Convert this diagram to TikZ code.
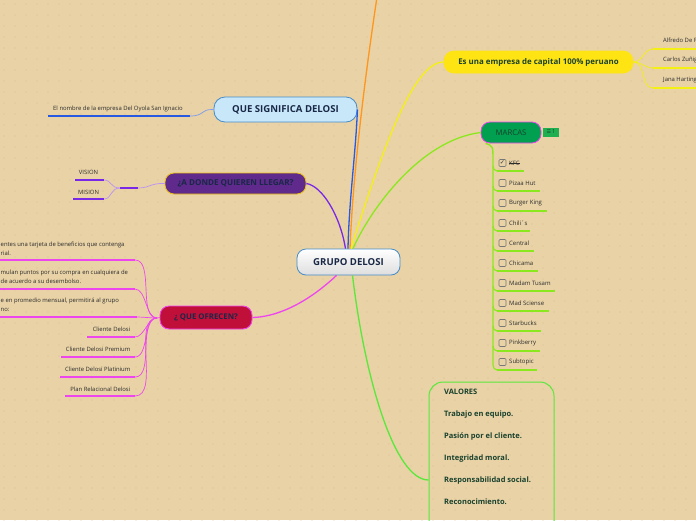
\documentclass[tikz,border=0pt]{standalone}
\usepackage{fontspec}
\setmainfont{Open Sans}
\newfontfamily\djv{DejaVu Sans}
\usetikzlibrary{calc}
\definecolor{bg}{RGB}{232,210,166}
\definecolor{dotc}{RGB}{214,190,146}
\definecolor{orng}{RGB}{255,150,30}
\definecolor{blu}{RGB}{40,90,225}
\definecolor{ylw}{RGB}{245,240,20}
\definecolor{ylwf}{RGB}{255,228,20}
\definecolor{lime}{RGB}{140,232,30}
\definecolor{purp}{RGB}{120,40,230}
\definecolor{purpf}{RGB}{95,42,140}
\definecolor{gold}{RGB}{235,195,20}
\definecolor{mag}{RGB}{238,70,238}
\definecolor{crim}{RGB}{192,16,58}
\definecolor{grn}{RGB}{90,232,60}
\definecolor{mgrn}{RGB}{0,160,80}
\definecolor{tagg}{RGB}{30,176,80}
\definecolor{lblue}{RGB}{200,232,250}
\definecolor{bord}{RGB}{70,140,200}
\definecolor{navy}{RGB}{25,40,70}
\definecolor{dgrn}{RGB}{25,65,45}
\definecolor{txt}{RGB}{45,45,45}
\definecolor{boxg}{RGB}{120,120,120}
\newcommand\myfs[1]{\fontsize{#1}{#1}\selectfont}
\begin{document}
\begin{tikzpicture}[x=1pt,y=-1pt,
  topic/.style={draw, rounded corners=9pt, inner sep=0pt, align=center},
  small/.style={font=\myfs{5.9}, text=txt, inner sep=0pt},
  item/.style={font=\myfs{6}, text=txt, inner sep=0pt},
  conn/.style={line width=1.3pt},
  twig/.style={line width=0.7pt},
  uline/.style={line width=1.6pt},
  chk/.style={draw=boxg, line width=0.6pt, rounded corners=1pt},
]
\useasboundingbox (0,0) rectangle (696,520);
\clip (0,0) rectangle (696,520);
\fill[bg] (0,0) rectangle (696,520);
\foreach \i in {0,...,63}{\foreach \j in {0,...,47}{\fill[dotc] (4+\i*11,4+\j*11) circle (0.7);}}

% ---------- main nodes ----------
\node[topic, top color=white, bottom color=black!13, draw=bord, line width=0.8pt,
      minimum width=103, minimum height=26, font=\bfseries\myfs{9.6}, text=navy] (g) at (348.5,262) {GRUPO DELOSI};
\node[topic, fill=lblue, draw=bord, line width=0.8pt, rounded corners=11pt,
      minimum width=143, minimum height=25, font=\bfseries\myfs{9.6}, text=navy] (q) at (285.5,109.5) {QUE SIGNIFICA DELOSI};
\node[topic, fill=purpf, draw=gold, line width=0.8pt,
      minimum width=141, minimum height=21, font=\bfseries\myfs{8.1}, text=navy] (a) at (235.5,183.5) {¿A DONDE QUIEREN LLEGAR?};
\node[topic, fill=crim, draw=mag, line width=0.9pt,
      minimum width=92, minimum height=23, font=\bfseries\myfs{7.8}, text=navy] (o) at (206,317.5) {¿ QUE OFRECEN?};
\node[topic, fill=ylwf, draw=ylwf, line width=0.8pt, rounded corners=10pt,
      minimum width=189, minimum height=22, font=\bfseries\myfs{7.9}, text=dgrn] (cap) at (538.5,62) {Es una empresa de capital 100\% peruano};
\node[topic, fill=mgrn, draw=mag, line width=0.8pt,
      minimum width=60, minimum height=21, font=\myfs{7.8}, text=dgrn] (m) at (511,132.5) {MARCAS};
\node[fill=tagg, inner sep=0pt, minimum width=16, minimum height=9, font=\myfs{5.5}, text=dgrn] (tag) at (551,132) {{\djv\myfs{5}☰}\,1};
\node[draw=grn, line width=1pt, rounded corners=14pt, minimum width=125, minimum height=196] (v) at (491.5,480) {};
\node[anchor=north west, align=left, inner sep=0pt, text=dgrn, font=\bfseries\fontsize{7.5}{22}\selectfont] (vt) at (444,389)
  {VALORES\\Trabajo en equipo.\\Pasión por el cliente.\\Integridad moral.\\Responsabilidad social.\\Reconocimiento.};

% ---------- main connectors ----------
\coordinate (top) at (377,-3);
\draw[conn,orng] ([xshift=1.5pt]g.north) .. controls (353,170) and (366,70) .. (top);
\draw[conn,blu] (q.east) .. controls (356,150) and (349,200) .. ([xshift=-0.5pt]g.north);
\draw[conn,ylw] ([xshift=2.5pt]g.north) .. controls (385,140) and (415,62) .. (cap.west);
\draw[conn,lime] ([xshift=4.5pt]g.north) .. controls (370,210) and (420,140) .. (m.west);
\draw[conn,purp] ([xshift=-3pt]g.north) .. controls (340,215) and (322,186) .. (a.east);
\draw[conn,mag] ([xshift=-12pt]g.south) .. controls (305,305) and (275,317) .. (o.east);
\draw[conn,grn] ([xshift=4pt]g.south) .. controls (365,380) and (395,480) .. (v.west);

% ---------- QUE SIGNIFICA child ----------
\coordinate (s0) at (48,116); \coordinate (s1) at (190,116);
\draw[uline,blu] (s0) -- (s1);
\draw[twig,blu!60] (s1) .. controls (205,116) and (200,109) .. (q.west);
\node[small, anchor=base west] (st) at (53,110.5) {El nombre de la empresa Del Oyola San Ignacio};

% ---------- A DONDE children ----------
\coordinate (ah) at (138,188); \coordinate (ah2) at (120,188);
\coordinate (vi1) at (75,180); \coordinate (vi2) at (104,180);
\coordinate (mi1) at (73,199); \coordinate (mi2) at (104,199);
\draw[twig,purp!50] (a.west) .. controls (150,183) and (150,188) .. (ah);
\draw[line width=1.6pt,purp] (ah2) -- (ah);
\draw[twig,purp!50] (ah2) .. controls (110,188) and (112,180) .. (vi2);
\draw[twig,purp!50] (ah2) .. controls (110,188) and (112,199) .. (mi2);
\draw[uline,purp] (vi1) -- (vi2);
\draw[uline,purp] (mi1) -- (mi2);
\node[small, anchor=base] (vis) at (88.5,174.5) {VISION};
\node[small, anchor=base] (mis) at (88.5,194.5) {MISION};

% ---------- QUE OFRECEN children ----------
\coordinate (oh) at (157,318);
\draw[twig,mag] (oh) -- (o.west);
\foreach \n/\xs/\xe/\yy in {1/-2/135/260, 2/-2/135/289, 3/-2/137/317, 4/87/135/337, 5/61/135/357, 6/60/135/377, 7/65/135/396}{
  \coordinate (ou\n a) at (\xs,\yy); \coordinate (ou\n b) at (\xe,\yy);
  \draw[uline,mag] (ou\n a) -- (ou\n b);
  \draw[twig,mag] (ou\n b) to[out=0,in=180,looseness=0.8] (oh);
}
\node[small, anchor=base west] (ot1) at (0.5,246.5) {entes una tarjeta de beneficios que contenga};
\node[small, anchor=base west] (ot1b) at (0.5,255) {rial.};
\node[small, anchor=base west] (ot2) at (0.5,274.5) {mulan puntos por su compra en cualquiera de};
\node[small, anchor=base west] (ot2b) at (0.5,283.5) {de acuerdo a su desembolso.};
\node[small, anchor=base west] (ot3) at (0.5,302.5) {e en promedio mensual, permitirá al grupo};
\node[small, anchor=base west] (ot3b) at (0.5,311.5) {no:};
\node[small, anchor=base east] (ot4) at (130.5,331.5) {Cliente Delosi};
\node[small, anchor=base east] (ot5) at (130.5,351.5) {Cliente Delosi Premium};
\node[small, anchor=base east] (ot6) at (130.5,371) {Cliente Delosi Platinium};
\node[small, anchor=base east] (ot7) at (130.5,391.5) {Plan Relacional Delosi};

% ---------- Es una empresa children ----------
\foreach \n/\yy/\t in {1/49/Alfredo De F, 2/68/Carlos Zuñig, 3/88/Jana Harting}{
  \coordinate (cu\n a) at (653,\yy); \coordinate (cu\n b) at (700,\yy);
  \draw[twig,ylw] (cap.east) to[out=0,in=180] (cu\n a);
  \draw[uline,ylw] (cu\n a) -- (cu\n b);
  \node[small, anchor=base west] (ct\n) at (663,\yy-6.5) {\t};
}

% ---------- MARCAS children ----------
\coordinate (ms) at ([xshift=5pt]m.south west);
\coordinate (ms2) at (493,160);
\coordinate (ms3) at (493,365);
\draw[line width=1.4pt,lime] (ms) .. controls (493,146) .. (ms2) -- (ms3);
\foreach \n/\yy/\xe/\t in {1/163/524/KFC, 2/183/540/Pizaa Hut, 3/203/547/Burger King, 4/223/530/Chili´s, 5/243/534/Central,
   6/263/538/Chicama, 7/283/555/Madam Tusam, 8/303/549/Mad Sciense, 9/323/541/Starbucks, 10/343/540/Pinkberry, 11/362/537/Subtopic}{
  \coordinate (mu\n a) at (497,\yy+8); \coordinate (mu\n b) at (\xe,\yy+8);
  \coordinate (mj\n) at (493,\yy+3);
  \draw[line width=1.1pt,lime] (mj\n) to[out=-90,in=180] (mu\n a);
  \draw[uline,lime] (mu\n a) -- (mu\n b);
  \node[chk, minimum width=7, minimum height=7, inner sep=0pt] (mc\n) at (502.5,\yy) {};
  \node[item, anchor=west] (mt\n) at (509,\yy) {\t};
}
\node[inner sep=0pt, font=\djv\myfs{6}, text=black!80] (tick) at (mc1) {✓};
\draw[line width=0.4pt, txt] (mt1.west) -- (mt1.east);
\end{tikzpicture}
\end{document}
